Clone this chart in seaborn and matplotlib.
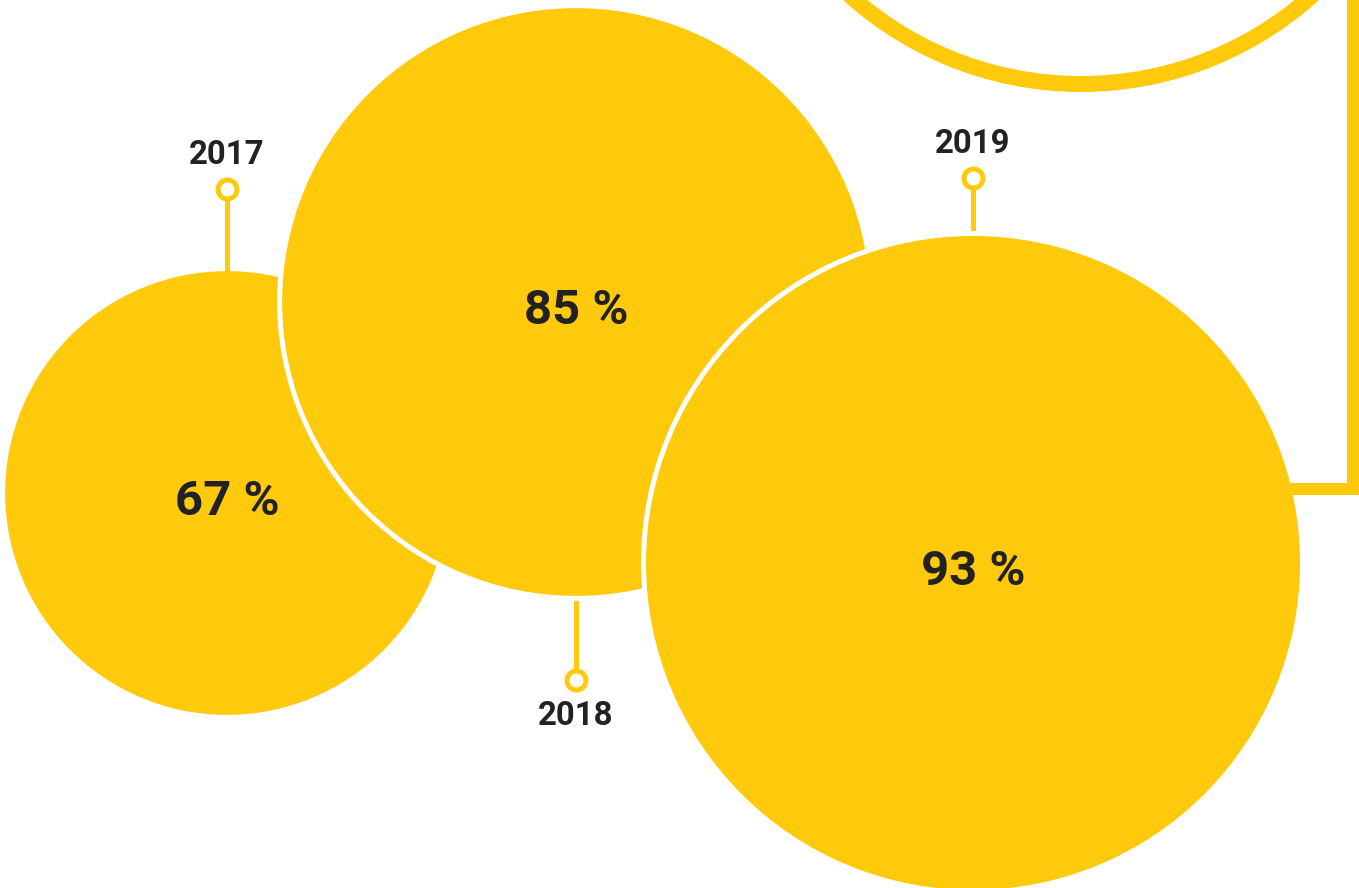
"""Bubble chart: share per year."""
import matplotlib.pyplot as plt
import numpy as np
import pandas as pd
import seaborn as sns
from matplotlib.patches import Circle

# Data
years = ["2017", "2018", "2019"]
shares = [67, 85, 93]

# Layout (pixel space, y pointing down)
centers_x = [227, 576, 973]
centers_y = [493, 302, 563]
stem_side = ["top", "bottom", "top"]
stem_length = [82, 82, 55]

YELLOW = "#FECA0B"
DARK = "#222222"
W, H = 1359, 888
PX = 0.72  # points per pixel at dpi 100


def radius(value):
    """Linear size scale for the bubbles."""
    return 4.14 * value - 55.5


sns.set_theme(style="white")
plt.rcParams["font.family"] = ["Roboto", "DejaVu Sans"]

fig = plt.figure(figsize=(W / 100, H / 100), dpi=100)
ax = fig.add_axes([0, 0, 1, 1])
ax.set_xlim(0, W)
ax.set_ylim(H, 0)
ax.set_aspect("equal")
ax.axis("off")

# Decorative ring in the top-right corner
ax.add_patch(
    Circle((1081, -262), 346, fill=False, edgecolor=YELLOW, lw=16 * PX)
)

df = pd.DataFrame(
    {"year": years, "share": shares, "x": centers_x, "y": centers_y}
)
df["r"] = radius(df["share"])

markers = []
for i, row in df.iterrows():
    # bubble, later ones outlined in white to separate from the previous
    edge = "none" if i == 0 else "white"
    ax.add_patch(
        Circle(
            (row.x, row.y),
            row.r,
            facecolor=YELLOW,
            edgecolor=edge,
            lw=5 * PX,
            zorder=2 + i,
        )
    )
    ax.text(
        row.x,
        row.y + 9,
        f"{row.share} %",
        ha="center",
        va="center",
        fontsize=49 * PX,
        fontweight="bold",
        color=DARK,
        zorder=10,
    )

    # stem + marker + year label
    if stem_side[i] == "top":
        y0 = row.y - row.r
        ym = y0 - stem_length[i]
        ax.plot([row.x, row.x], [y0 + 2, ym + 8], color=YELLOW,
                lw=5 * PX, zorder=1)
        ax.text(row.x, ym - 34, row.year, ha="center", va="center",
                fontsize=33 * PX, fontweight="bold", color=DARK)
    else:
        y0 = row.y + row.r
        ym = y0 + stem_length[i]
        ax.plot([row.x, row.x], [y0 - 2, ym - 8], color=YELLOW,
                lw=5 * PX, zorder=1)
        ax.text(row.x, ym + 36, row.year, ha="center", va="center",
                fontsize=33 * PX, fontweight="bold", color=DARK)
    markers.append({"x": row.x, "y": ym})

mk = pd.DataFrame(markers)
sns.scatterplot(
    data=mk,
    x="x",
    y="y",
    ax=ax,
    s=(19 * PX) ** 2,
    marker="o",
    facecolor="white",
    edgecolor=YELLOW,
    linewidth=5 * PX,
    zorder=6,
    legend=False,
)

# Bracket from the last bubble to the right edge and up
last = df.iloc[-1]
yb = 489
xb = last.x + np.sqrt(last.r**2 - (yb - last.y) ** 2) - 6
ax.plot(
    [xb, 1353, 1353],
    [yb, yb, -10],
    color=YELLOW,
    lw=12 * PX,
    solid_joinstyle="miter",
    zorder=5,
)

ax.set_xlim(0, W)
ax.set_ylim(H, 0)
fig.savefig("out.png", dpi=100)
